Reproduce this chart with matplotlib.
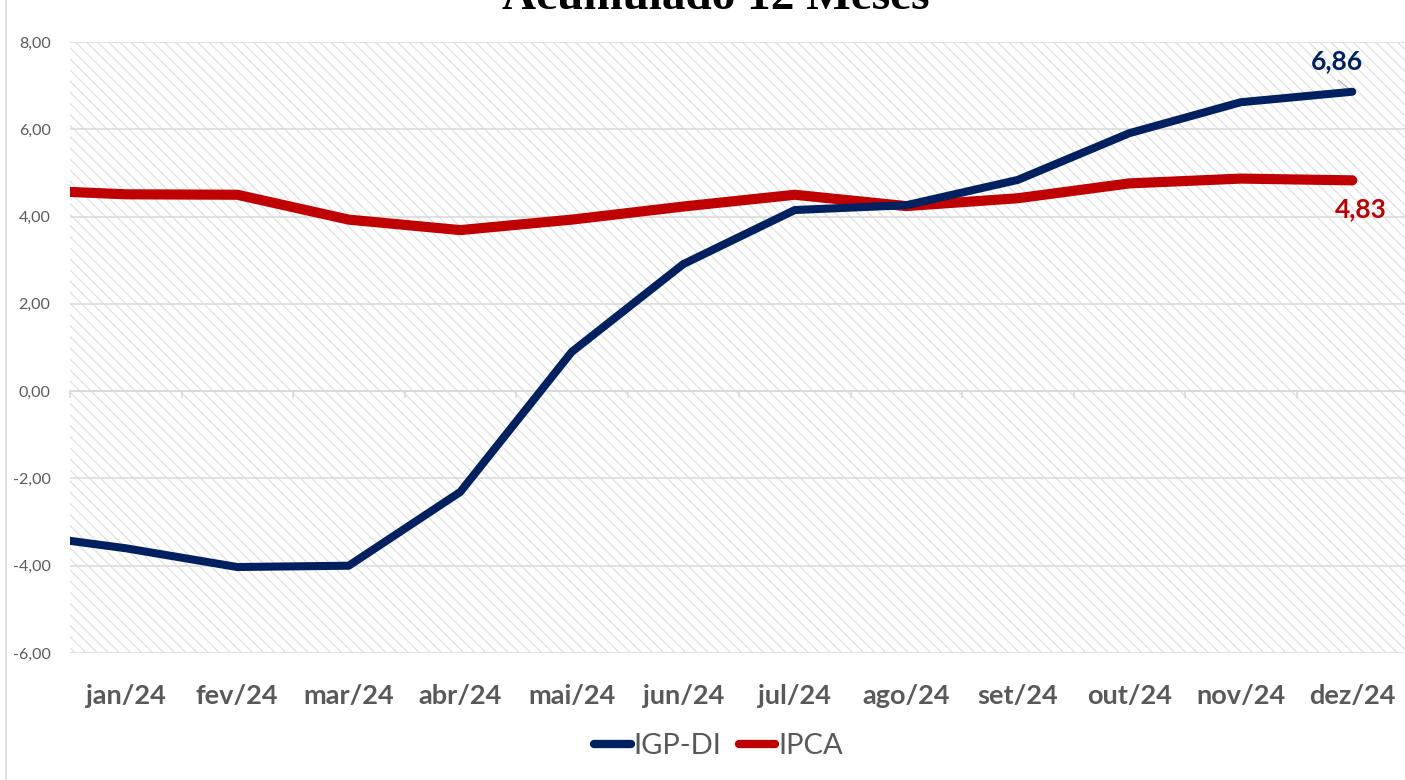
import matplotlib
matplotlib.use("Agg")
import matplotlib.pyplot as plt
import numpy as np
from matplotlib.patches import Rectangle
from matplotlib.lines import Line2D

# ---- data ----
periods = ['dez/23', 'jan/24', 'fev/24', 'mar/24', 'abr/24', 'mai/24', 'jun/24',
           'jul/24', 'ago/24', 'set/24', 'out/24', 'nov/24', 'dez/24']
igp_di = [-3.26, -3.60, -4.03, -4.00, -2.31, 0.90, 2.91, 4.15, 4.26, 4.84, 5.91, 6.62, 6.86]
ipca = [4.62, 4.51, 4.50, 3.93, 3.69, 3.93, 4.23, 4.50, 4.24, 4.42, 4.76, 4.87, 4.83]
shown_labels = periods[1:]
y_ticks = [-6, -4, -2, 0, 2, 4, 6, 8]
title = 'Acumulado 12 Meses'

NAVY = '#002060'
RED = '#C00000'
GREY_TXT = '#595959'
GRID = '#d9d9d9'

plt.rcParams['font.family'] = ['Lato', 'DejaVu Sans']
plt.rcParams['hatch.linewidth'] = 0.7

fig = plt.figure(figsize=(14.05, 7.8), dpi=100)
W, H = 1405, 780
ax = fig.add_axes([70 / W, 1 - 653 / H, 1338 / W, (653 - 42) / H])

x = np.arange(-1, len(periods) - 1)

# hatched background
bg = Rectangle((0, 0), 1, 1, transform=ax.transAxes, facecolor='white',
               edgecolor='#dadada', hatch='\\\\\\', linewidth=0, zorder=0)
ax.add_patch(bg)
ax.patch.set_visible(False)

ax.set_xlim(-0.5, 11.5)
ax.set_ylim(-6, 8)

ax.plot(x, ipca, color=RED, lw=7.3, solid_capstyle='round', solid_joinstyle='round',
        label='IPCA', zorder=4)
ax.plot(x, igp_di, color=NAVY, lw=5.8, solid_capstyle='round', solid_joinstyle='round',
        label='IGP-DI', zorder=5)

# grid
ax.set_yticks(y_ticks)
ax.set_yticklabels([f"{v:.2f}".replace('.', ',') for v in y_ticks])
ax.yaxis.grid(True, color=GRID, lw=1.1, zorder=1)
ax.set_axisbelow(True)
for s in ['left', 'right', 'bottom']:
    ax.spines[s].set_visible(False)
ax.spines['top'].set_position(('data', 0))
ax.spines['top'].set_color(GRID)
ax.spines['top'].set_linewidth(1.1)
ax.spines['top'].set_zorder(1.5)

ax.set_xticks(np.arange(0, 12))
ax.set_xticklabels(shown_labels)
ax.set_xticks(np.arange(-0.5, 12, 1), minor=True)
ax.tick_params(axis='x', which='major', bottom=True, top=False, length=0, pad=22,
               labelsize=19.5, labelcolor=GREY_TXT)
for t in ax.get_xticklabels():
    t.set_fontweight('bold')
ax.tick_params(axis='x', which='minor', bottom=False, top=True, direction='in',
               length=5, width=1.1, color=GRID)
ax.tick_params(axis='y', length=0, pad=14, labelsize=11.5, labelcolor=GREY_TXT)

# data labels
ax.annotate(f"{igp_di[-1]:.2f}".replace('.', ','), xy=(x[-1], igp_di[-1]),
            xytext=(-11, 22), textcoords='offset points', ha='center', va='center',
            fontsize=19, fontweight='bold', color=NAVY, zorder=6)
ax.annotate('', xy=(x[-1] - 0.02, igp_di[-1] + 0.05), xytext=(-10, 8),
            textcoords='offset points',
            arrowprops=dict(arrowstyle='-', color='#a6a6a6', lw=0.8), zorder=6)
ax.annotate(f"{ipca[-1]:.2f}".replace('.', ','), xy=(x[-1], ipca[-1]),
            xytext=(6.5, -20.5), textcoords='offset points', ha='center', va='center',
            fontsize=19, fontweight='bold', color=RED, zorder=6)

# legend
h, l = ax.get_legend_handles_labels()
order = [1, 0]
leg = fig.legend([h[i] for i in order], [l[i] for i in order], loc='center',
                 bbox_to_anchor=(718.5 / W, 1 - 746 / H), ncol=2, frameon=False,
                 fontsize=21, handlelength=1.25, handletextpad=0.1, columnspacing=0.6,
                 borderpad=0, borderaxespad=0)
for t in leg.get_texts():
    t.set_color(GREY_TXT)
for ln in leg.get_lines():
    ln.set_linewidth(6)

# title (cut at top)
fig.text(716 / W, 1 - 9 / H, title, ha='center', va='baseline',
         fontsize=34, fontweight='bold', family=['Liberation Serif', 'DejaVu Serif'],
         color='black')

# chart border on the left
fig.add_artist(Line2D([6.5 / W, 6.5 / W], [0, 1], color=GRID, lw=1.2))

fig.savefig('out.png', dpi=100)
